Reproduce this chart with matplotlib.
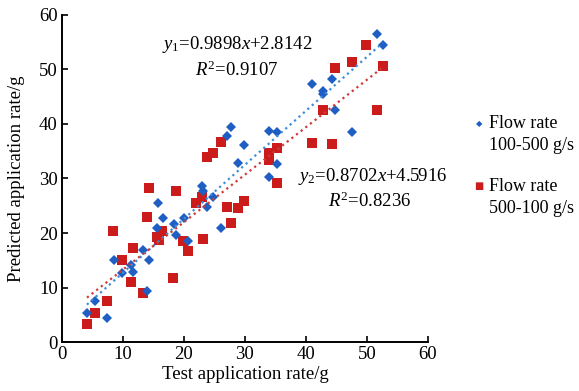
import numpy as np
import matplotlib
matplotlib.use('Agg')
import matplotlib.pyplot as plt

plt.rcParams['font.family'] = ['Liberation Serif', 'DejaVu Serif']
plt.rcParams['mathtext.fontset'] = 'custom'
plt.rcParams['mathtext.rm'] = 'Liberation Serif'
plt.rcParams['mathtext.it'] = 'Liberation Serif:italic'

# flow rate 100-500 g/s
blue_x = [4.1, 5.4, 7.4, 8.5, 9.8, 11.3, 11.6, 13.9, 13.3, 14.3, 15.6, 15.7, 16.6,
          18.4, 18.7, 20.0, 20.7, 23.0, 23.1, 24.8, 23.8, 26.1, 27.0, 27.7, 28.9,
          29.8, 33.9, 35.2, 35.2, 33.9, 41.0, 42.8, 42.8, 44.3, 44.8, 47.5, 51.6, 52.6]
blue_y = [5.3, 7.5, 4.4, 15.0, 12.7, 14.1, 12.8, 9.4, 16.9, 15.0, 20.9, 25.5, 22.8,
          21.7, 19.6, 22.8, 18.5, 28.6, 27.7, 26.6, 24.8, 20.9, 37.8, 39.4, 32.8,
          36.1, 38.7, 38.5, 32.7, 30.3, 47.3, 46.1, 45.5, 48.3, 42.6, 38.5, 56.5, 54.5]

# flow rate 500-100 g/s
red_x = [4.1, 5.4, 7.4, 8.4, 9.8, 11.3, 11.6, 13.3, 13.9, 14.3, 16.4, 15.6, 15.9,
         18.2, 18.7, 19.8, 20.7, 23.1, 22.0, 23.0, 23.8, 24.8, 26.1, 27.0, 27.7,
         28.9, 29.8, 33.9, 33.9, 35.2, 35.2, 41.0, 42.8, 44.3, 44.8, 47.5, 49.8, 51.6, 52.6]
red_y = [3.3, 5.3, 7.5, 20.4, 15.0, 11.0, 17.2, 9.0, 22.9, 28.3, 20.4, 19.3, 18.7,
         11.7, 27.7, 18.5, 16.7, 18.9, 25.5, 26.6, 33.9, 34.7, 36.7, 24.8, 21.8,
         24.6, 25.9, 34.7, 33.4, 35.6, 29.2, 36.5, 42.6, 36.3, 50.3, 51.4, 54.5, 42.6, 50.6]

fit_blue = (0.9898, 2.8142, 0.9107)
fit_red = (0.8702, 4.5916, 0.8236)

BLUE = '#1f5ec2'
RED = '#cc1b1b'

fig = plt.figure(figsize=(5.79, 3.91), dpi=100)
ax = fig.add_axes([0.107, 0.125, 0.632, 0.837])

ax.plot(blue_x, blue_y, 'D', color=BLUE, markersize=5, markeredgewidth=0, zorder=3)
ax.plot(red_x, red_y, 's', color=RED, markersize=7, markeredgewidth=0, zorder=2)

# trend lines over the data range
xb = np.array([min(blue_x), max(blue_x)])
xr = np.array([min(red_x), max(red_x)])
ax.plot(xb, fit_blue[0] * xb + fit_blue[1], ':', color='#3d8fd6', lw=1.6, zorder=4)
ax.plot(xr, fit_red[0] * xr + fit_red[1], ':', color='#d23a3a', lw=1.6, zorder=4)

ax.text(28.8, 54.6, r'$y_1$=0.9898$x$+2.8142', fontsize=13.5, ha='center', va='center')
ax.text(28.6, 49.9, r'$R^2$=0.9107', fontsize=13.5, ha='center', va='center')
ax.text(51.0, 30.3, r'$y_2$=0.8702$x$+4.5916', fontsize=13.5, ha='center', va='center')
ax.text(50.5, 25.9, r'$R^2$=0.8236', fontsize=13.5, ha='center', va='center')

ax.set_xlim(0, 60)
ax.set_ylim(0, 60)
ax.set_xticks(range(0, 61, 10))
ax.set_yticks(range(0, 61, 10))
ax.tick_params(direction='in', length=4, width=1.2, labelsize=13.5, pad=3)
for s in ['top', 'right']:
    ax.spines[s].set_visible(False)
for s in ['left', 'bottom']:
    ax.spines[s].set_linewidth(1.4)

ax.set_xlabel('Test application rate/g', fontsize=13.5, labelpad=2)
ax.set_ylabel('Predicted application rate/g', fontsize=13.5, labelpad=10)

# legend outside, drawn by hand
fig.text(0.827, 0.685, u'\u25c6', color=BLUE, fontsize=6, ha='center', va='center',
         family='DejaVu Sans')
fig.text(0.845, 0.685, 'Flow rate', fontsize=13, va='center')
fig.text(0.845, 0.627, '100-500 g/s', fontsize=13, va='center')
fig.text(0.827, 0.524, u'\u25a0', color=RED, fontsize=7, ha='center', va='center',
         family='DejaVu Sans')
fig.text(0.845, 0.524, 'Flow rate', fontsize=13, va='center')
fig.text(0.845, 0.466, '500-100 g/s', fontsize=13, va='center')

fig.savefig('out.png', dpi=100)
